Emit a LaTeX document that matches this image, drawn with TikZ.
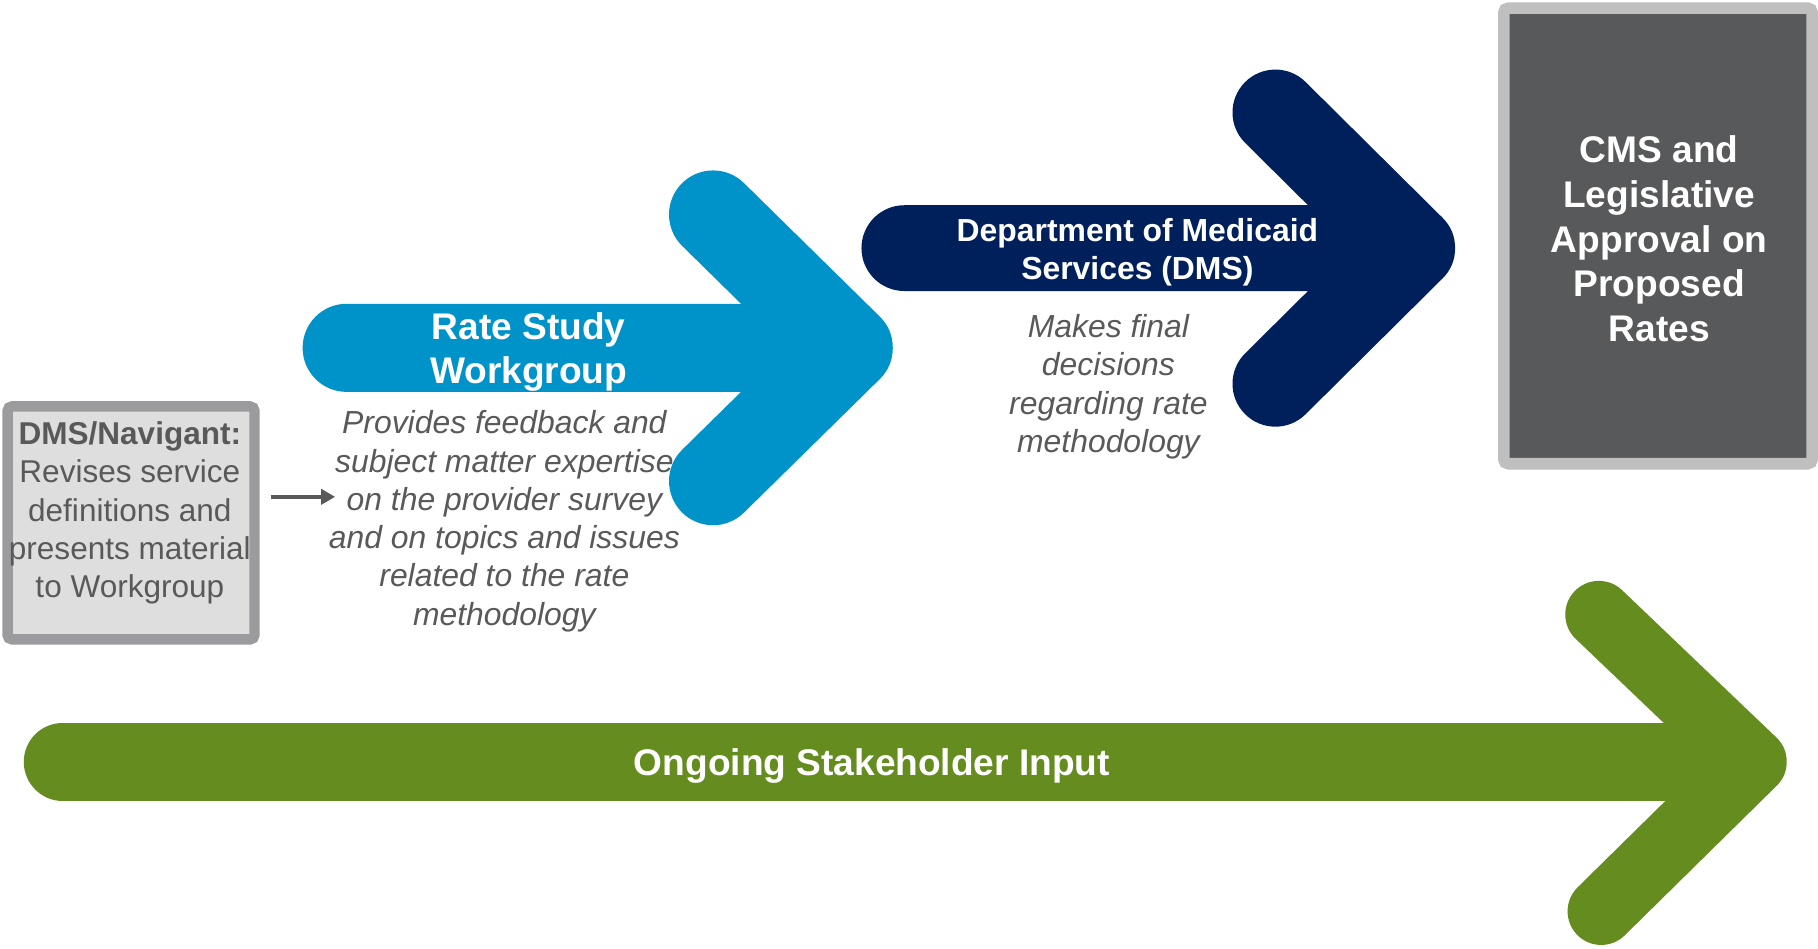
\documentclass[tikz,border=0pt]{standalone}
\usepackage{fontspec}
\setmainfont{Liberation Sans}
\usetikzlibrary{arrows.meta}
\definecolor{wgblue}{HTML}{0093C9}
\definecolor{dmsnavy}{HTML}{00205B}
\definecolor{stkgreen}{HTML}{658C1F}
\definecolor{txtgray}{HTML}{595959}
\definecolor{boxfill}{HTML}{DEDEDE}
\definecolor{boxline}{HTML}{9B9B9E}
\definecolor{cmsfill}{HTML}{58595B}
\definecolor{cmsline}{HTML}{BFBFBF}
\begin{document}
\begin{tikzpicture}[x=0.5pt,y=-0.5pt,
  bigarrow/.style={line width=#1, line cap=round, line join=round},
  desc/.style={align=center, inner sep=0pt, text=txtgray, font=\fontsize{13.75}{16.5}\selectfont\itshape},
  title/.style={align=center, inner sep=0pt, text=white, font=\fontsize{16}{19.3}\selectfont\bfseries},
  smalltitle/.style={align=center, inner sep=0pt, text=white, font=\fontsize{13.75}{16.5}\selectfont\bfseries},
  boxtext/.style={align=center, inner sep=0pt, text=txtgray, font=\fontsize{13.6}{16.5}\selectfont}]
\useasboundingbox (0,0) rectangle (1568,818);

% green arrow
\draw[bigarrow=33.5pt, stkgreen] (54,657) -- (1490,657);
\draw[bigarrow=29pt, stkgreen] (1379,530) -- (1512,657) -- (1381,786);
% blue arrow
\draw[bigarrow=38pt, wgblue] (299,300) -- (732,300) (615,185) -- (732,300) -- (615,415);
% navy arrow
\draw[bigarrow=37pt, dmsnavy] (780,214) -- (1218,214) (1100,97) -- (1218,214) -- (1100,331);

% DMS / Navigant box
\node[draw=boxline, fill=boxfill, line width=4.5pt, rounded corners=2pt, minimum width=106.5pt, minimum height=100.5pt, inner sep=0pt] (dmsbox) at (113,451) {};
\node[boxtext] (dmstext) at (112,442.5) {\textbf{DMS/Navigant:}\\Revises service\\definitions and\\presents material\\to Workgroup};

% CMS box
\node[draw=cmsline, fill=cmsfill, line width=5pt, rounded corners=2pt, minimum width=133pt, minimum height=196.5pt, inner sep=0pt] (cms) at (1430,203.5) {};
\node[title] (cmstext) at (1431,206) {CMS and\\Legislative\\Approval on\\Proposed\\Rates};

% titles
\node[title] (wgtitle) at (456,303.5) {Rate Study\\Workgroup};
\node[smalltitle] (dmstitle) at (981,217.5) {Department of Medicaid\\Services (DMS)};
\node[title] (stktitle) at (752,660.5) {Ongoing Stakeholder Input};

% descriptions
\node[desc] (wgdesc) at (435,449.5) {Provides feedback and\\subject matter expertise\\on the provider survey\\and on topics and issues\\related to the rate\\methodology};
\node[desc] (dmsdesc) at (956,333.5) {Makes final\\decisions\\regarding rate\\methodology};

% small connector
\coordinate (ca) at (233.5,428.5);
\coordinate (cb) at (289,428.5);
\draw[cmsfill, line width=2pt, -{Triangle[length=6pt,width=6.5pt]}] (ca) -- (cb);
\end{tikzpicture}
\end{document}
